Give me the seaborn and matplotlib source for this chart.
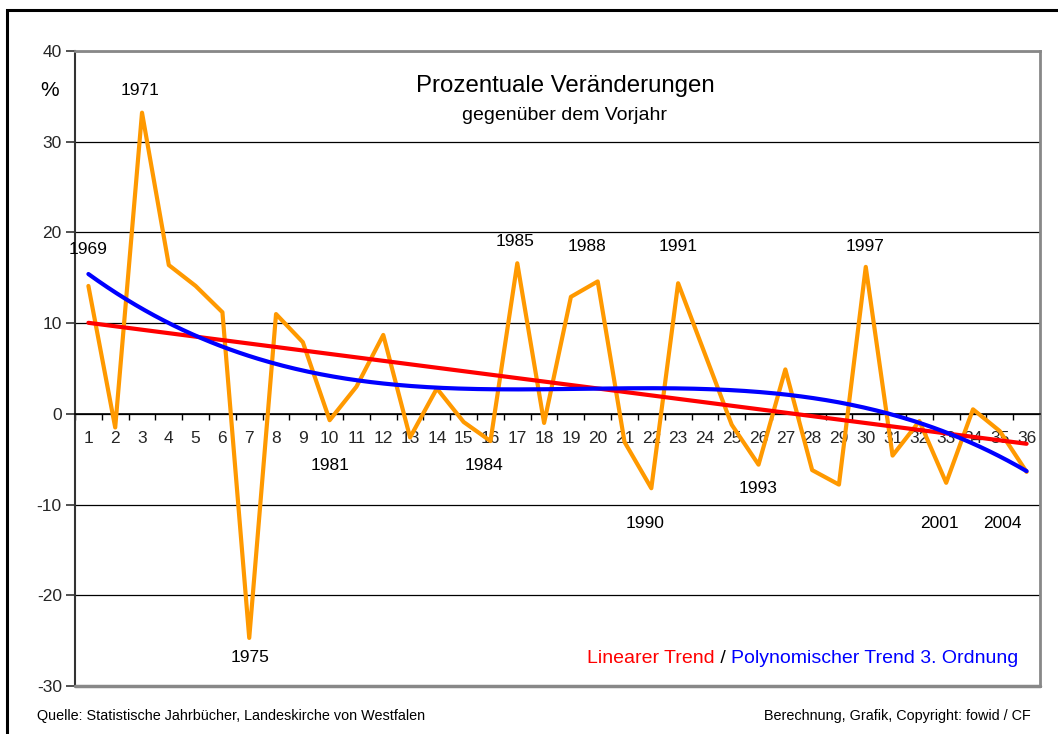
import numpy as np
import pandas as pd
import matplotlib
matplotlib.use("Agg")
import matplotlib.pyplot as plt
from matplotlib import font_manager
from matplotlib.patches import Rectangle
import seaborn as sns

# Prozentuale Veraenderungen gegenueber dem Vorjahr, 1969-2004 (Index 1..36)
index = list(range(1, 37))
change = [14.1, -1.5, 33.2, 16.4, 14.1, 11.2, -24.7, 11.0, 7.9, -0.7,
          3.0, 8.7, -2.6, 2.8, -0.9, -3.0, 16.6, -1.0, 12.9, 14.6,
          -3.1, -8.2, 14.4, 6.6, -1.2, -5.6, 4.9, -6.2, -7.8, 16.2,
          -4.6, -0.8, -7.6, 0.5, -1.9, -6.4]

# year labels and where they sit (category x, y in %)
year_labels = ["1969", "1971", "1975", "1981", "1984", "1985", "1988",
               "1991", "1990", "1993", "1997", "2001", "2004"]
label_x = [1.0, 2.94, 7.04, 10.0, 15.76, 16.9, 19.6, 23.0, 21.76, 25.97,
           29.96, 32.76, 35.1]
label_y = [18.1, 35.7, -26.9, -5.7, -5.7, 19.0, 18.4, 18.4, -12.1, -8.2,
           18.4, -12.1, -12.1]

y_ticks = [-30, -20, -10, 0, 10, 20, 30, 40]

df = pd.DataFrame({"idx": index, "change": change})

# trend lines fitted from the series (like Excel trendlines)
lin = np.polyfit(df["idx"], df["change"], 1)
cub = np.polyfit(df["idx"], df["change"], 3)
xs = np.linspace(1, 36, 300)
trend = pd.DataFrame({"x": xs, "lin": np.polyval(lin, xs), "cub": np.polyval(cub, xs)})

sns.set_theme(style="white")
plt.rcParams["font.family"] = ["Liberation Sans", "DejaVu Sans"]

W, H = 1058, 734
fig = plt.figure(figsize=(W / 100, H / 100), dpi=100)
ax = fig.add_axes([75 / W, 1 - 686 / H, (1040 - 75) / W, (686 - 51) / H])

sns.lineplot(data=df, x="idx", y="change", ax=ax, color="#FF9900", lw=3, zorder=3)
sns.lineplot(data=trend, x="x", y="lin", ax=ax, color="#FF0000", lw=3, zorder=4)
sns.lineplot(data=trend, x="x", y="cub", ax=ax, color="#0000FF", lw=3, zorder=5)

ax.set_xlim(0.5, 36.5)
ax.set_ylim(-30, 40)
ax.set_xlabel("")
ax.set_ylabel("")

# y axis
ax.set_yticks(y_ticks)
ax.set_yticklabels([str(t) for t in y_ticks], fontsize=12.5)
ax.tick_params(axis="y", direction="out", length=6.5, width=1.2, color="#333333", pad=3, left=True)
ax.grid(axis="y", color="black", lw=0.9)
ax.grid(axis="x", visible=False)

# x axis at zero, ticks between categories, labels at centers
ax.spines["bottom"].set_position(("data", 0))
ax.spines["bottom"].set_color("black")
ax.spines["bottom"].set_linewidth(1.2)
ax.set_xticks(np.arange(0.5, 37, 1))
ax.set_xticklabels([])
ax.set_xticks(index, minor=True)
ax.set_xticklabels([str(i) for i in index], minor=True, fontsize=12.5)
ax.tick_params(axis="x", which="major", direction="out", length=4, width=1.0, color="black", bottom=True)
ax.tick_params(axis="x", which="minor", length=0, pad=12, bottom=True)

for s in ["top", "right"]:
    ax.spines[s].set_color("#888888")
    ax.spines[s].set_linewidth(2)
ax.spines["left"].set_color("#333333")
ax.spines["left"].set_linewidth(1.5)
ax.axhline(-30, color="#888888", lw=2.5, clip_on=False, zorder=6)

for txt, lx, ly in zip(year_labels, label_x, label_y):
    ax.text(lx, ly, txt, ha="center", va="center", fontsize=12.5, color="black")

# titles
fig.text(565 / W, 1 - 92 / H, "Prozentuale Veränderungen", ha="center", va="baseline",
         fontsize=17.3, color="black")
fig.text(564 / W, 1 - 120 / H, "gegenüber dem Vorjahr", ha="center", va="baseline",
         fontsize=14, color="black")
fig.text(50 / W, 1 - 96 / H, "%", ha="center", va="baseline", fontsize=15, color="black")

# trend legend as coloured text
fig.canvas.draw()
rend = fig.canvas.get_renderer()
base = 1 - 663 / H
t_blue = fig.text(1018 / W, base, "Polynomischer Trend 3. Ordnung", ha="right", va="baseline",
                  fontsize=14, color="#0000FF")
bb = t_blue.get_window_extent(rend)
t_sl = fig.text(bb.x0 / W, base, " / ", ha="right", va="baseline", fontsize=14, color="black")
bb2 = t_sl.get_window_extent(rend)
fig.text(bb2.x0 / W, base, "Linearer Trend", ha="right", va="baseline", fontsize=14, color="#FF0000")

# footer, narrow font if available
try:
    font_manager.findfont("Liberation Sans Narrow", fallback_to_default=False)
    foot_font, foot_size = ["Liberation Sans Narrow", "DejaVu Sans"], 12.7
except Exception:
    foot_font, foot_size = ["Liberation Sans", "DejaVu Sans"], 10.4
fig.text(37 / W, 1 - 720 / H, "Quelle: Statistische Jahrbücher, Landeskirche von Westfalen",
         ha="left", va="baseline", fontsize=foot_size, family=foot_font, color="black")
fig.text(1031 / W, 1 - 720 / H, "Berechnung, Grafik, Copyright: fowid / CF",
         ha="right", va="baseline", fontsize=foot_size, family=foot_font, color="black")

# outer frame (cut off at right and bottom edge)
fig.patches.append(Rectangle((7 / W, -0.05), 1.1, 1 - 10 / H + 0.05, transform=fig.transFigure,
                             fill=False, edgecolor="black", lw=2.2))

fig.savefig("out.png", dpi=100, facecolor="white")
